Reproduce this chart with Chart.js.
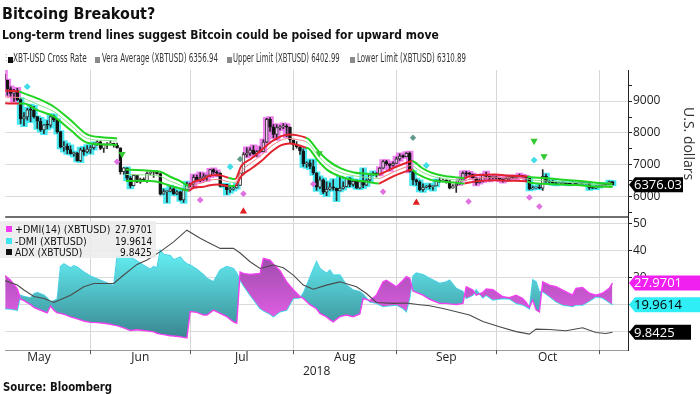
<!DOCTYPE html>
<html>
<head>
<meta charset="utf-8">
<script src="https://cdn.jsdelivr.net/npm/chart.js@4.4.1/dist/chart.umd.min.js"></script>
<style>
  html, body { margin:0; padding:0; background:#fff; }
  #wrap { position:relative; width:700px; height:394px; overflow:hidden; background:#fff; }
  #c { position:absolute; left:0; top:0; }
  .t { position:absolute; white-space:nowrap; transform-origin:0 0; color:#111; font-family:'DejaVu Sans', sans-serif; }
  #title { left:2px; top:4px; font-size:16.5px; line-height:20px; font-weight:bold; }
  #sub { left:2px; top:28px; font-size:11.5px; line-height:14px; font-weight:bold; }
  .lg { top:52px; font-size:11.4px; line-height:12px; color:#333; }
  .sq { position:absolute; width:5px; height:6px; }
  #source { left:3px; top:380px; font-size:12px; line-height:14px; font-weight:bold; }
  #dmibox { position:absolute; left:0; top:221px; width:156px; height:37px; background:rgba(236,236,236,0.88); }
  .dl { font-size:10.5px; line-height:11.5px; color:#111; }
</style>
</head>
<body>
<div id="wrap">
  <canvas id="c" width="700" height="394"></canvas>
  <div id="title" class="t fit" data-w="153">Bitcoing Breakout?</div>
  <div id="sub" class="t fit" data-w="437">Long-term trend lines suggest Bitcoin could be poised for upward move</div>

  <div class="t" style="left:2px;top:53px;color:#999;font-size:8px;line-height:10px;">&#8942;</div>
  <div class="sq" style="left:8px;top:57px;background:#111;"></div>
  <div class="t lg fit" data-w="74" style="left:13px;">XBT-USD Cross Rate</div>
  <div class="sq" style="left:95px;top:57px;background:#8a8a8a;"></div>
  <div class="t lg fit" id="lgVera" data-w="116" style="left:102px;"></div>
  <div class="sq" style="left:227px;top:57px;background:#8a8a8a;"></div>
  <div class="t lg fit" id="lgUpper" data-w="107" style="left:233px;"></div>
  <div class="sq" style="left:350px;top:57px;background:#8a8a8a;"></div>
  <div class="t lg fit" id="lgLower" data-w="109" style="left:357px;"></div>

  <div id="dmibox"></div>
  <div class="sq" style="left:6px;top:226px;width:6px;height:6px;background:#f03cf0;"></div>
  <div class="sq" style="left:6px;top:237.5px;width:6px;height:6px;background:#3fe6f0;"></div>
  <div class="sq" style="left:6px;top:249px;width:6px;height:6px;background:#111;"></div>
  <div class="t dl fit" data-w="95" style="left:15px;top:224px;">+DMI(14) (XBTUSD)</div>
  <div class="t dl fit" data-w="72" style="left:15px;top:235.5px;">-DMI (XBTUSD)</div>
  <div class="t dl fit" data-w="67" style="left:15px;top:247px;">ADX (XBTUSD)</div>
  <div class="t dl fit" id="vPlus" data-w="37" data-r="152" style="top:224px;"></div>
  <div class="t dl fit" id="vMinus" data-w="37" data-r="152" style="top:235.5px;"></div>
  <div class="t dl fit" id="vAdx" data-w="32" data-r="152" style="top:247px;"></div>

  <div id="source" class="t fit" data-w="109">Source: Bloomberg</div>
</div>
<script>
// ---------------- DATA ----------------
// Daily XBT-USD candles, day 0 = 2018-05-06
const firstDate = '2018-05-06';
const open = [9845,9654,9380,9235,9325,9043,8441,8505,8724,8716,8510,8368,8094,8251,8247,8514,8418,8041,7558,7588,7480,7355,7369,7136,7472,7406,
7494,7541,7644,7720,7514,7633,7653,7679,7624,7531,6786,6906,6582,6349,6675,6456,6550,6499,6734,6769,6776,6729,6083,6162,6173,6249,6093,6157,5903,6218,
6404,6385,6614,6529,6597,6639,6673,6856,6773,6741,6329,6394,6228,6238,6276,6359,6742,7321,7370,7466,7354,7419,7418,7711,8424,8181,7951,8165,8193,8218,8181,
7780,7625,7568,7434,7032,7068,6951,6753,6306,6529,6144,6232,6310,6275,6187,6266,6322,6579,6386,6489,6268,6476,6363,6527,6690,6734,6701,6898,7103,7033,6981,
7047,7190,7274,7260,7362,6793,6529,6467,6226,6301,6329,6321,6343,6489,6486,6521,6502,6269,6341,6398,6519,6734,6721,6710,6595,6446,6495,6676,6644,6601,
6625,6589,6556,6502,6576,6637,6603,6638,6674,6643,6590,6251,6278,6278,6270,6640,6485,6465,6435,6407,6413,6418,6404,6398,6417,6405,6410,6408,6411,6280,6274,
6318,6350,6391,6380,6480];
const high = [9964,9657,9446,9367,9400,9074,8638,8774,8871,8836,8510,8459,8262,8390,8574,8559,8421,8042,7728,7661,7597,7402,7397,7530,7553,7608,
7603,7695,7754,7754,7659,7701,7753,7681,7682,7531,6914,6908,6631,6707,6675,6587,6597,6781,6822,6805,6806,6738,6240,6190,6338,6283,6193,6173,6250,6465,
6432,6683,6683,6756,6726,6680,6861,6878,6812,6749,6402,6394,6311,6318,6401,6745,7387,7534,7537,7602,7452,7567,7783,8460,8485,8262,8253,8233,8291,8266,8181,
7780,7727,7568,7496,7097,7150,7150,6753,6625,6564,6473,6439,6540,6275,6620,6471,6582,6602,6533,6523,6513,6881,6552,6715,6786,6760,6918,7133,7140,7033,7093,
7242,7347,7315,7388,7402,6793,6556,6501,6404,6351,6404,6342,6535,6603,6565,6530,6510,6383,6464,6530,6784,6795,6771,6716,6595,6564,6700,6776,6644,6653,
6648,6602,6563,6616,6658,6638,6657,6710,6675,6643,6590,6335,6309,6380,6850,6713,6505,6518,6462,6435,6466,6442,6428,6468,6426,6440,6430,6424,6414,6303,6345,
6379,6425,6397,6493,6480];
const low = [9480,9187,9143,8987,9010,8295,8226,8400,8353,8462,8140,8052,7976,8126,8184,8351,7993,7529,7428,7355,7337,7275,7120,7101,7308,7379,
7361,7490,7613,7474,7388,7511,7641,7558,7522,6712,6711,6537,6281,6342,6440,6423,6485,6451,6687,6610,6712,6057,6083,5827,6150,6073,6068,5890,5826,6218,
6305,6294,6500,6474,6513,6515,6632,6732,6657,6311,6319,6079,6136,6209,6269,6356,6684,7247,7294,7327,7269,7396,7418,7698,8050,7850,7800,8094,8131,7883,7696,
7467,7527,7331,6953,6918,6880,6704,6201,6255,6096,6033,6206,6207,5880,6187,6240,6310,6322,6330,6260,6258,6289,6352,6463,6680,6618,6684,6890,6989,6826,6957,
7044,7141,7228,7260,6782,6380,6367,6186,6166,6279,6250,6206,6343,6450,6485,6431,6247,6269,6138,6385,6519,6650,6684,6580,6374,6424,6470,6591,6501,6557,
6554,6503,6458,6502,6546,6568,6568,6630,6614,6511,6217,6240,6260,6256,6200,6450,6428,6385,6370,6393,6412,6388,6373,6395,6388,6390,6398,6397,6232,6258,6255,
6304,6350,6345,6360,6370];
const close = [9654,9374,9235,9325,9043,8441,8505,8724,8716,8510,8368,8094,8251,8247,8514,8418,8041,7558,7588,7480,7355,7369,7136,7472,7406,7494,
7541,7644,7720,7514,7633,7653,7679,7624,7531,6786,6906,6582,6349,6675,6456,6550,6499,6734,6769,6776,6729,6083,6162,6173,6249,6093,6157,5903,6218,6404,
6385,6614,6529,6597,6639,6673,6856,6773,6741,6329,6394,6228,6238,6276,6359,6742,7321,7370,7466,7354,7419,7418,7711,8424,8181,7951,8165,8193,8218,8181,7780,
7625,7568,7434,7032,7068,6951,6753,6306,6529,6144,6232,6310,6275,6187,6266,6322,6579,6386,6489,6268,6476,6363,6527,6690,6734,6701,6898,7103,7033,6981,7047,
7190,7274,7260,7362,6793,6529,6467,6226,6301,6329,6321,6343,6489,6486,6521,6502,6269,6341,6398,6519,6734,6721,6710,6595,6446,6495,6676,6644,6601,6625,
6589,6556,6502,6576,6637,6603,6638,6674,6643,6590,6251,6278,6278,6270,6640,6485,6465,6435,6407,6413,6418,6404,6398,6417,6405,6410,6408,6411,6280,6274,6318,
6350,6391,6380,6480,6376.03];

// candle highlight zones (day ranges)
const magentaRanges = [[0,4],[56,64],[73,85],[113,122],[137,157]];
const cyanRanges = [[5,27],[37,38],[48,55],[66,70],[90,111],[123,130],[158,161],[163,183]];

// Vera average band
const bandDays = [0,4.5,6,10,15,20,25,30,34,35.5,36.6,40,44,47,50,53,55.5,57,60,61.5,64.5,67.5,69.5,71.4,74.4,77.4,80.4,83.4,85.9,88.3,
90.8,91.8,94.3,97.3,101.3,105.2,109.2,112.7,113.5,117.2,121.1,122.8,123.6,125.6,128.6,132.5,135.5,138.5,139.5,142.5,147.5,152.4,157.4,158.4,162.4,167.3,172.3,177.3,183];
const upperLimit = [9330,9300,9240,9084,8822,8404,7955,7861,7830,null,6858,6837,6816,6785,6628,6492,6346,6471,6555,6649,6680,6597,6555,6973,7203,7464,7725,7903,7955,7924,
7850,7790,7464,7150,6889,6764,6722,6701,6732,6910,7067,7119,7077,6910,6753,6649,6617,6586,6628,6680,6701,6659,6638,6617,6586,6544,6503,6450,6402.99];
const veraAvg = [9130,9110,9080,8900,8666,8248,7830,7767,7746,null,6701,6690,6680,6638,6492,6367,6262,6367,6450,6513,6544,6471,6450,6806,7067,7307,7589,7777,7830,7788,
7725,7650,7307,6994,6764,6659,6607,6576,6597,6785,6941,6994,6920,6785,6649,6565,6534,6502,6534,6586,6617,6586,6565,6534,6502,6471,6440,6388,6356.94];
const lowerLimit = [8930,8920,8920,8715,8509,8091,7694,7641,7621,null,6492,6503,6492,6450,6346,6262,6189,6283,6314,6356,6388,6335,6346,6659,6889,7119,7412,7621,7673,7621,
7537,7500,7150,6837,6628,6523,6471,6419,6450,6649,6806,6858,6764,6649,6523,6471,6450,6419,6440,6492,6523,6503,6482,6440,6408,6388,6367,6325,6310.89];
const bandTrend = ['up','up',
 'down','down','down','down','down','down','down','down','down','down','down','down','down','down','down',
 'up','up','up','up','up','down',
 'up','up','up','up','up','up','up','up',
 'down','down','down','down','down','down','down',
 'up','up','up','up',
 'down','down','down','down','down','down',
 'up','up','up','up','up',
 'down','down','down','down','down','down'];

// signal markers
const greenDownDays = [35.5, 94.8, 159.4, 162.4], greenDownPrices = [7340, 7360, 7750, 7270];
const redUpDays = [72, 124], redUpPrices = [5540, 5820];
const cyanMarkDays = [7, 68, 127, 159.4], cyanMarkPrices = [9450, 6940, 6980, 7150];
const magentaMarkDays = [34, 59, 72, 93, 114, 139.7, 158, 161], magentaMarkPrices = [7100, 5900, 6100, 6400, 6160, 5850, 5980, 5700];
const grayMarkDays = [71, 123], grayMarkPrices = [7180, 7850];

// DMI panel
const dmiDays = [0,2,4,5,6,8,9,10,12,13,14,15,16,17,18,20,21,22,24,26,28,30,32,33,34,36,38,40,42,44,45,46,47,48,50,51,53,54,55,56,
58,60,61,63,65,67,69,70,71,72,74,77,78,80,81,83,85,87,89,90,92,93,94,95,97,98,99,101,103,105,107,108,110,112,114,115,118,120,121,122,
123,124,126,128,131,133,134,136,138,139,141,142,144,145,147,150,152,154,156,157,158,159,160,161,162,164,166,168,171,172,174,176,178,180,182,183];
const plusDMI = [31.0,29.0,25.8,22.0,21.5,20.0,19.0,18.5,17.5,17.0,19.5,18.0,17.0,16.8,16.5,15.5,15.2,14.8,14.0,13.5,
13.4,13.2,12.8,12.5,12.3,11.5,10.5,10.8,10.5,10.2,10.0,9.5,9.2,9.0,8.6,8.5,8.2,8.0,7.8,17.5,
17.2,16.2,16.2,18.0,16.8,15.6,13.7,13.2,32.0,31.5,31.1,31.5,37.0,36.4,35.0,32.5,28.4,25.5,23.0,22.3,
20.0,19.3,18.5,16.8,15.5,14.5,13.7,15.6,16.2,15.6,16.6,22.3,21.5,23.5,28.4,29.0,26.6,29.0,30.3,29.7,
25.0,24.5,23.5,22.0,20.5,20.5,20.3,20.1,20.5,26.6,25.4,23.5,24.5,25.8,25.5,22.9,22.6,23.5,22.3,20.8,
19.0,21.7,18.1,17.4,28.4,27.2,26.6,25.4,23.5,26.0,26.3,24.2,23.5,24.2,26.0,27.9701];
const minusDMI = [18.5,18.4,18.0,23.5,23.0,22.5,24.0,24.5,23.5,22.5,21.0,21.5,22.0,34.0,35.0,33.5,34.3,33.8,32.0,30.5,
29.5,28.5,27.5,27.0,37.5,38.0,37.5,36.0,34.5,33.0,34.0,33.5,40.0,38.5,38.0,36.5,37.5,36.0,35.0,34.5,
33.0,31.0,29.7,28.4,32.7,34.0,33.3,31.5,29.0,27.0,23.5,18.6,17.8,16.5,15.6,17.4,18.0,22.3,22.5,24.2,
30.0,33.0,35.8,33.3,31.5,32.7,30.9,30.9,27.2,25.4,24.8,23.8,21.0,20.5,19.3,19.5,19.9,18.6,17.4,22.3,
30.5,31.6,31.0,29.7,27.8,28.4,29.0,26.0,24.8,22.3,23.5,25.4,22.5,23.5,21.7,22.3,22.1,20.5,19.9,19.3,
18.5,29.1,28.4,24.8,24.8,23.0,21.1,19.9,19.3,19.9,19.9,21.3,22.9,22.5,20.8,19.9614];
const adxDays = [0,4,6,9,12,15,20,24,27,33,36,40,43,47,51,55,59,61,65,69,71,74,77,81,84,87,90,93,97,101,106,109,112,117,121,125,128,132,136,140,144,149,154,158,160,164,169,174,178,181,183];
const adxValues = [29.0,27.2,25.4,23.0,22.3,20.8,23.5,26.6,27.8,27.8,30.9,34.8,36.4,39.5,43.1,47.4,44.4,43.1,40.7,40.7,
39.0,35.8,33.3,34.6,33.6,30.9,27.2,25.7,27.2,28.4,26.6,24.1,20.8,20.5,20.6,20.0,19.6,18.6,17.4,16.2,
13.8,11.9,10.1,9.2,11.0,10.9,10.4,11.5,9.8,9.4,9.8425];

// axis ticks
const monthStartDays = [26, 56, 87, 118, 148, 179];
const monthMidDays = [10.5, 41, 71.5, 102.5, 133, 163.5];
const monthLabels = ['May', 'Jun', 'Jul', 'Aug', 'Sep', 'Oct'];
const yearLabel = '2018';
const priceTicks = [5500,6000,6500,7000,7500,8000,8500,9000,9500];
const dmiTicks = [10,20,30,40,50];

// ---------------- TEXT ----------------
const last = a => a[a.length - 1];
document.getElementById('lgVera').textContent = 'Vera Average (XBTUSD) ' + last(veraAvg).toFixed(2);
document.getElementById('lgUpper').textContent = 'Upper Limit (XBTUSD) ' + last(upperLimit).toFixed(2);
document.getElementById('lgLower').textContent = 'Lower Limit (XBTUSD) ' + last(lowerLimit).toFixed(2);
document.getElementById('vPlus').textContent = last(plusDMI).toFixed(4);
document.getElementById('vMinus').textContent = last(minusDMI).toFixed(4);
document.getElementById('vAdx').textContent = last(adxValues).toFixed(4);
document.querySelectorAll('.fit').forEach(el => {
  const w = +el.dataset.w, cur = el.offsetWidth;
  el.style.transform = 'scaleX(' + (w / cur) + ')';
  if (el.dataset.r) el.style.left = (+el.dataset.r - w) + 'px';
});

// ---------------- CHART ----------------
Chart.defaults.font.family = "'Open Sans', 'DejaVu Sans', sans-serif";
Chart.defaults.color = '#222';

const inRanges = (i, rs) => rs.some(([a, b]) => i >= a && i <= b);
const zoneOf = i => inRanges(i, magentaRanges) ? 'm' : (inRanges(i, cyanRanges) ? 'c' : '');
const GLOW = { m: 'rgba(238,118,238,0.92)', c: 'rgba(60,232,242,0.92)', '': 'rgba(0,0,0,0)' };
const BODYUP = { m: 'rgb(246,190,246)', c: 'rgb(170,244,248)', '': '#ffffff' };
const idx = close.map((_, i) => i);

const RED = '#e3222d', RED2 = '#f08088', GREEN = '#22d422', GREEN2 = '#86e486';
function bandDs(arr, w, main) {
  return {
    type: 'line', yAxisID: 'yP', order: 6, data: bandDays.map((d, i) => ({ x: d, y: arr[i] })),
    borderWidth: w, pointRadius: 0, spanGaps: false, fill: false, cubicInterpolationMode: 'monotone',
    borderColor: main ? GREEN : GREEN2,
    segment: { borderColor: c => bandTrend[c.p1DataIndex] === 'up' ? (main ? RED : RED2) : (main ? GREEN : GREEN2) }
  };
}
function markDs(days, prices, style, color, rot, r) {
  return {
    type: 'line', yAxisID: 'yP', order: 2, showLine: false, data: days.map((d, i) => ({ x: d, y: prices[i] })),
    pointStyle: style, pointRotation: rot, pointRadius: r, pointBackgroundColor: color, pointBorderColor: color, pointBorderWidth: 1.2
  };
}

const datasets = [
  { type: 'bar', yAxisID: 'yP', order: 10, grouped: false, barThickness: 5, inflateAmount: 1.3, borderWidth: 0,
    data: idx.map(i => ({ x: i, y: [low[i], high[i]] })), backgroundColor: c => GLOW[zoneOf(c.dataIndex)] },
  { type: 'bar', yAxisID: 'yP', order: 9, grouped: false, barThickness: 1, borderWidth: 0,
    data: idx.map(i => ({ x: i, y: [low[i], high[i]] })), backgroundColor: '#2a2a2a' },
  { type: 'bar', yAxisID: 'yP', order: 8, grouped: false, barThickness: 3, minBarLength: 1, borderWidth: 1, borderSkipped: false,
    data: idx.map(i => ({ x: i, y: [open[i], close[i]] })),
    backgroundColor: c => close[c.dataIndex] >= open[c.dataIndex] ? BODYUP[zoneOf(c.dataIndex)] : '#141414',
    borderColor: c => close[c.dataIndex] >= open[c.dataIndex] ? '#3a3a3a' : '#141414' },
  bandDs(upperLimit, 2, true),
  bandDs(veraAvg, 1, false),
  bandDs(lowerLimit, 2, true),
  markDs(greenDownDays, greenDownPrices, 'triangle', '#34c834', 180, 3),
  markDs(redUpDays, redUpPrices, 'triangle', '#e02020', 0, 3),
  markDs(cyanMarkDays, cyanMarkPrices, 'rectRot', '#40dde8', 0, 2.6),
  markDs(magentaMarkDays, magentaMarkPrices, 'rectRot', '#e070e0', 0, 2.4),
  markDs(grayMarkDays, grayMarkPrices, 'rectRot', '#5f9a8c', 0, 2.3)
];
const plusDs = { type: 'line', yAxisID: 'yD', order: 5, data: dmiDays.map((d, i) => ({ x: d, y: plusDMI[i] })),
  borderColor: '#f040f0', borderWidth: 1.4, pointRadius: 0, fill: false };
datasets.push(plusDs);
const minusIndex = datasets.length;
datasets.push({ type: 'line', yAxisID: 'yD', order: 5, data: dmiDays.map((d, i) => ({ x: d, y: minusDMI[i] })),
  borderColor: '#3fe6f0', borderWidth: 1.4, pointRadius: 0, fill: false });
datasets.push({ type: 'line', yAxisID: 'yD', order: 4, data: adxDays.map((d, i) => ({ x: d, y: adxValues[i] })),
  borderColor: '#4a4a4a', borderWidth: 1.1, pointRadius: 0, fill: false });
plusDs.fill = { target: minusIndex, above: 'rgba(220,90,220,0.85)', below: 'rgba(70,210,215,0.85)' };

function drawTag(ctx, x, y, text, bg, fg, w) {
  const h = 15;
  ctx.save();
  ctx.beginPath();
  ctx.moveTo(x, y);
  ctx.lineTo(x + 6, y - h / 2);
  ctx.lineTo(x + w, y - h / 2);
  ctx.lineTo(x + w, y + h / 2);
  ctx.lineTo(x + 6, y + h / 2);
  ctx.closePath();
  ctx.fillStyle = bg; ctx.fill();
  ctx.fillStyle = fg;
  ctx.font = "13px 'Open Sans', 'DejaVu Sans', sans-serif";
  ctx.textBaseline = 'middle'; ctx.textAlign = 'left';
  ctx.fillText(text, x + 5, y + 0.5);
  ctx.restore();
}

const overlay = {
  id: 'overlay',
  afterDraw(chart) {
    const ctx = chart.ctx, a = chart.chartArea, yP = chart.scales.yP, yD = chart.scales.yD, xs = chart.scales.x;
    ctx.save();
    ctx.strokeStyle = '#707070'; ctx.lineWidth = 2;
    ctx.beginPath(); ctx.moveTo(a.left, yP.bottom); ctx.lineTo(a.right, yP.bottom); ctx.stroke();
    ctx.strokeStyle = '#555'; ctx.lineWidth = 1;
    monthStartDays.forEach(d => {
      const x = Math.round(xs.getPixelForValue(d)) + 0.5;
      ctx.beginPath(); ctx.moveTo(x, a.bottom); ctx.lineTo(x, a.bottom + 4); ctx.stroke();
    });
    ctx.restore();
    const x0 = a.right + 1;
    drawTag(ctx, x0, yP.getPixelForValue(last(close)), last(close).toFixed(2), '#000', '#fff', 54);
    drawTag(ctx, x0, yD.getPixelForValue(last(plusDMI)), last(plusDMI).toFixed(4), '#f020f0', '#fff', 72);
    drawTag(ctx, x0, yD.getPixelForValue(last(minusDMI)), last(minusDMI).toFixed(4), '#30eef6', '#000', 72);
    drawTag(ctx, x0, yD.getPixelForValue(last(adxValues)), last(adxValues).toFixed(4), '#000', '#fff', 62);
  }
};

const allMonthTicks = monthStartDays.concat(monthMidDays).sort((p, q) => p - q);
const isStart = v => monthStartDays.indexOf(v) >= 0;
const tickFont = { family: "'Open Sans', 'DejaVu Sans', sans-serif", size: 12 };

const chart = new Chart(document.getElementById('c'), {
  type: 'line',
  data: { datasets },
  options: {
    responsive: false, animation: false, devicePixelRatio: 1,
    layout: { padding: { top: 70, left: 0, right: 0, bottom: 15 } },
    plugins: { legend: { display: false }, tooltip: { enabled: false } },
    scales: {
      x: {
        type: 'linear', min: 0.36, max: 187.65, offset: false,
        afterBuildTicks: s => { s.ticks = allMonthTicks.map(v => ({ value: v })); },
        grid: { offset: false, drawTicks: false, color: c => (c.tick && isStart(c.tick.value)) ? '#d6d6d6' : 'rgba(0,0,0,0)' },
        border: { display: true, color: '#9a9a9a' },
        ticks: { autoSkip: false, maxRotation: 0, padding: 0, font: tickFont, color: '#222',
          callback: v => { const k = monthMidDays.indexOf(v); return k >= 0 ? monthLabels[k] : ''; } },
        title: { display: true, text: yearLabel, padding: { top: 0, bottom: 0 }, font: tickFont, color: '#222' }
      },
      yP: {
        type: 'linear', position: 'right', stack: 'panels', stackWeight: 147, min: 5365, max: 9972,
        afterFit: s => { s.width = 72; },
        afterBuildTicks: s => { s.ticks = priceTicks.map(v => ({ value: v })); },
        grid: { tickLength: 4, tickColor: '#222', color: c => (c.tick && c.tick.value % 1000 === 0) ? '#dadada' : 'rgba(0,0,0,0)' },
        border: { display: true, color: '#222' },
        ticks: { autoSkip: false, padding: 1, font: tickFont, color: '#222', callback: v => v % 1000 === 0 ? String(v) : '' },
        title: { display: true, text: 'U.S. dollars', font: { family: "'Open Sans', 'DejaVu Sans', sans-serif", size: 14 }, color: '#333' }
      },
      yD: {
        type: 'linear', position: 'right', stack: 'panels', stackWeight: 133, min: 3.27, max: 52.2,
        afterFit: s => { s.width = 72; },
        afterBuildTicks: s => { s.ticks = dmiTicks.map(v => ({ value: v })); },
        grid: { tickLength: 4, tickColor: '#222', color: '#dadada' },
        border: { display: true, color: '#222' },
        ticks: { autoSkip: false, padding: 1, font: tickFont, color: '#222' }
      }
    }
  },
  plugins: [overlay]
});

// vertical gradients for the DMI fill, placed on the lower panel
const yDs = chart.scales.yD;
const gTop = yDs.getPixelForValue(40), gBot = yDs.getPixelForValue(6);
const gMag = chart.ctx.createLinearGradient(0, gTop, 0, gBot);
gMag.addColorStop(0, 'rgb(150,75,165)');
gMag.addColorStop(1, 'rgb(250,100,250)');
const gCyan = chart.ctx.createLinearGradient(0, gTop, 0, gBot);
gCyan.addColorStop(0, 'rgb(100,242,246)');
gCyan.addColorStop(1, 'rgb(55,128,138)');
plusDs.fill = { target: minusIndex, above: gMag, below: gCyan };
chart.update('none');
</script>
</body>
</html>
